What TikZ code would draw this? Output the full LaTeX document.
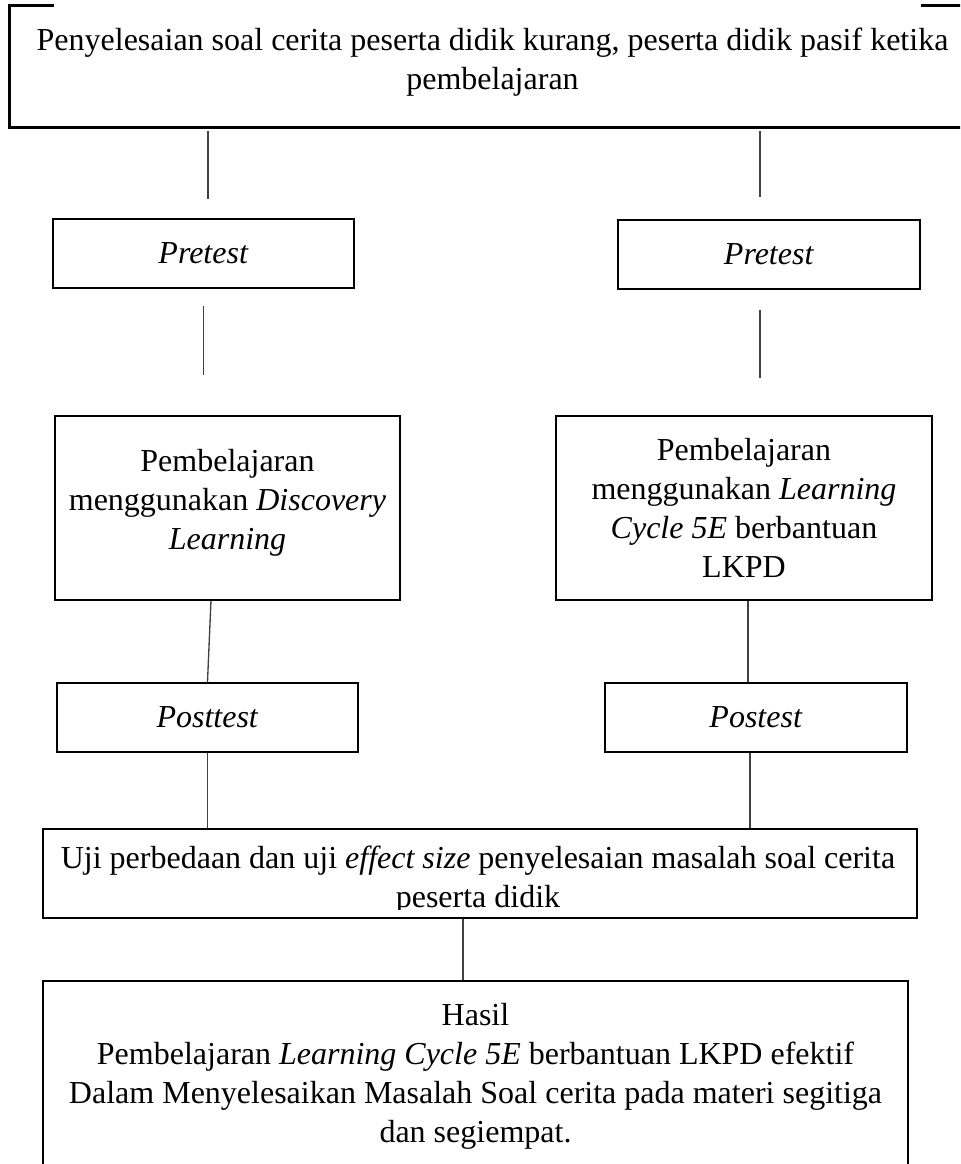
\documentclass[tikz,border=0pt]{standalone}
\usepackage{fontspec}
\setmainfont{Liberation Serif}
\usetikzlibrary{positioning,calc}

\begin{document}
\begin{tikzpicture}[x=0.375pt,y=-0.375pt,
  box/.style={draw,line width=0.85pt,inner sep=0pt,align=center,font=\fontsize{12}{14.6}\selectfont},
  txt/.style={inner sep=0pt,align=center,font=\fontsize{12}{14.6}\selectfont},
  link/.style={draw=black!75,line width=0.5pt}]
\clip (0,0) rectangle (960,1164);
% masalah awal
\node[minimum width=361.9pt,minimum height=45.4pt,inner sep=0pt] (problem) at (492.5,66.5) {};
\draw[line width=0.85pt] ($(problem.north west)+(45,0)$) -- (problem.north west) -- (problem.south west)
  -- (problem.south east) -- (problem.north east) -- ++(-55,0);
\node[txt] (problemtxt) at (492.5,62) {Penyelesaian soal cerita peserta didik kurang, peserta didik pasif ketika\\pembelajaran};
% dua kelas
\node[box,minimum width=112.9pt,minimum height=25.9pt] (preA) at (203.5,253.5) {\textit{Pretest}};
\node[box,minimum width=113.3pt,minimum height=25.9pt] (preB) at (769,254.5) {\textit{Pretest}};
\node[box,minimum width=129.4pt,minimum height=69pt] (disc) at (227.5,508) {};
\node[txt] (disctxt) at (227.5,503) {Pembelajaran\\menggunakan \textit{Discovery}\\\textit{Learning}};
\node[box,minimum width=141pt,minimum height=69pt] (lc) at (744,508) {Pembelajaran\\menggunakan \textit{Learning}\\\textit{Cycle 5E} berbantuan\\LKPD};
\node[box,minimum width=112.9pt,minimum height=25.9pt] (postA) at (207.5,717.5) {\textit{Posttest}};
\node[box,minimum width=113.3pt,minimum height=25.9pt] (postB) at (756,717.5) {\textit{Postest}};
% uji
\node[box,minimum width=327.8pt,minimum height=33.4pt] (uji) at (480,873.5) {};
\begin{scope}
\clip (43,829) rectangle (917,909);
\node[txt] (ujitxt) at (478,880) {Uji perbedaan dan uji \textit{effect size} penyelesaian masalah soal cerita\\peserta didik};
\end{scope}
\node[box,minimum width=324.4pt,minimum height=71.3pt] (hasil) at (475.5,1076) {Hasil\\Pembelajaran \textit{Learning Cycle 5E} berbantuan LKPD efektif\\Dalam Menyelesaikan Masalah Soal cerita pada materi segitiga\\dan segiempat.};
% garis
\draw[link,shorten <=1.1pt,shorten >=7.1pt] ([xshift=1.7pt]preA.north |- problem.south) -- ([xshift=1.7pt]preA.north);
\draw[link,shorten <=1.1pt,shorten >=8.3pt] ([xshift=-3.4pt]preB.north |- problem.south) -- ([xshift=-3.4pt]preB.north);
\draw[link,shorten <=6.4pt,shorten >=15pt] (preA.south) -- (preA.south |- disc.north);
\draw[link,shorten <=7.3pt,shorten >=13.9pt] ([xshift=-3.4pt]preB.south) -- ([xshift=-3.4pt]preB.south |- lc.north);
\draw[link] ([xshift=1.3pt]postA.north |- disc.south) -- (postA.north);
\draw[link] ([xshift=1.5pt]lc.south) -- ([xshift=1.5pt]lc.south |- postB.north);
\draw[link] (postA.south) -- (postA.south |- uji.north);
\draw[link] ([xshift=-2.25pt]postB.south) -- ([xshift=-2.25pt]postB.south |- uji.north);
\draw[link] ([xshift=-4.7pt]hasil.north |- uji.south) -- ([xshift=-4.7pt]hasil.north);
\end{tikzpicture}
\end{document}
